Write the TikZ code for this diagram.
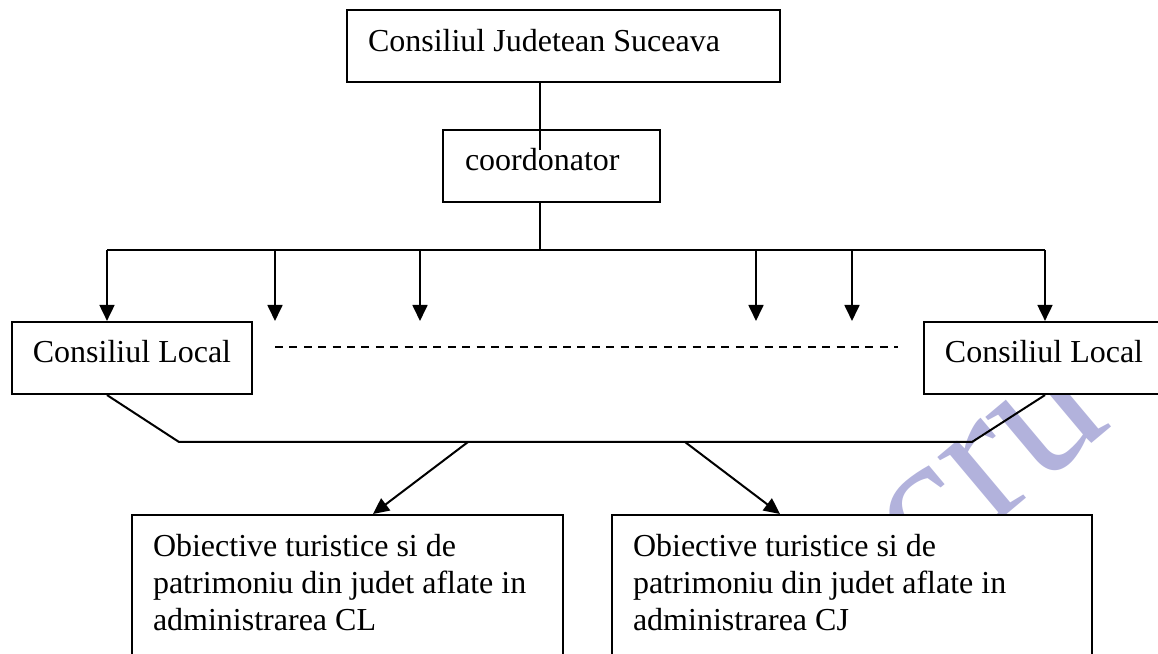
\documentclass[tikz,border=0pt]{standalone}
\usepackage{fontspec}
\setmainfont{Liberation Serif}
\usetikzlibrary{arrows.meta}
\definecolor{wmcol}{RGB}{178,178,220}
\begin{document}
\begin{tikzpicture}[x=0.375pt,y=-0.375pt,
  every node/.style={font=\fontsize{12}{13.875}\selectfont},
  box/.style={draw, line width=0.8pt, fill=white, inner ysep=0pt,
    minimum height=27pt, text height=8.5pt, text depth=4.75pt},
  tbox/.style={draw, line width=0.8pt, fill=white, anchor=north,
    inner xsep=7.875pt, inner ysep=7.125pt, align=flush left, text depth=40pt},
  ln/.style={line width=0.75pt},
  arr/.style={ln, -{Triangle[width=5.6pt,length=6pt]}},
  dashline/.style={line width=0.55pt, dash pattern=on 3pt off 2.4pt},
  wm/.style={text=wmcol, font=\fontsize{72}{72}\selectfont}]
\useasboundingbox (0,0) rectangle (1158,654);
\clip (0,0) rectangle (1158,654);
% watermark
\node[wm, rotate=40] (wmark) at (992,470) {cru};
% boxes
\node[box, text height=9pt, text depth=4.5pt, minimum width=162.375pt,
  inner xsep=7.875pt, text width=146.625pt, align=flush left] (cj) at (563.5,46)
  {Consiliul Judetean Suceava};
\node[box, minimum width=81.375pt, inner xsep=8.25pt, text width=64.875pt,
  align=flush left] (coord) at (551.5,166) {coordonator};
\node[box, minimum width=90pt] (cl1) at (132,358) {Consiliul Local};
\node[box, minimum width=90pt] (cl2) at (1044,358) {Consiliul Local};
\node[tbox, text width=145.875pt] (ol) at (347.5,514)
  {Obiective turistice si de\\patrimoniu din judet aflate in\\administrarea CL};
\node[tbox, text width=164.25pt] (oj) at (852,514)
  {Obiective turistice si de\\patrimoniu din judet aflate in\\administrarea CJ};
% connectors
\coordinate (bus) at (540,250);
\coordinate (cin) at (540,150);
\coordinate (busL) at (107,250);
\coordinate (busR) at (1045,250);
\draw[ln] (cj.south -| bus) -- (cin);
\draw[ln] (coord.south -| bus) -- (bus);
\draw[ln] (busL) -- (busR);
\draw[arr] (busL) -- (busL |- cl1.north);
\draw[arr] (busR) -- (busR |- cl2.north);
\foreach \x/\n in {275/s1,420/s2,756/s3,852/s4}{
  \coordinate (\n a) at (\x,250);
  \coordinate (\n b) at (\x,321);
  \draw[arr] (\n a) -- (\n b);
}
\coordinate (d1) at (275,347);
\coordinate (d2) at (898,347);
\draw[dashline] (d1) -- (d2);
\coordinate (kL) at (179,442);
\coordinate (kR) at (972,442);
\draw[ln] (busL |- cl1.south) -- (kL) -- (kR) -- (busR |- cl2.south);
\coordinate (fL) at (468,442);
\coordinate (fR) at (685,442);
\coordinate (tL) at (373,0);
\coordinate (tR) at (780,0);
\draw[arr] (fL) -- (tL |- ol.north);
\draw[arr] (fR) -- (tR |- oj.north);
\end{tikzpicture}
\end{document}
